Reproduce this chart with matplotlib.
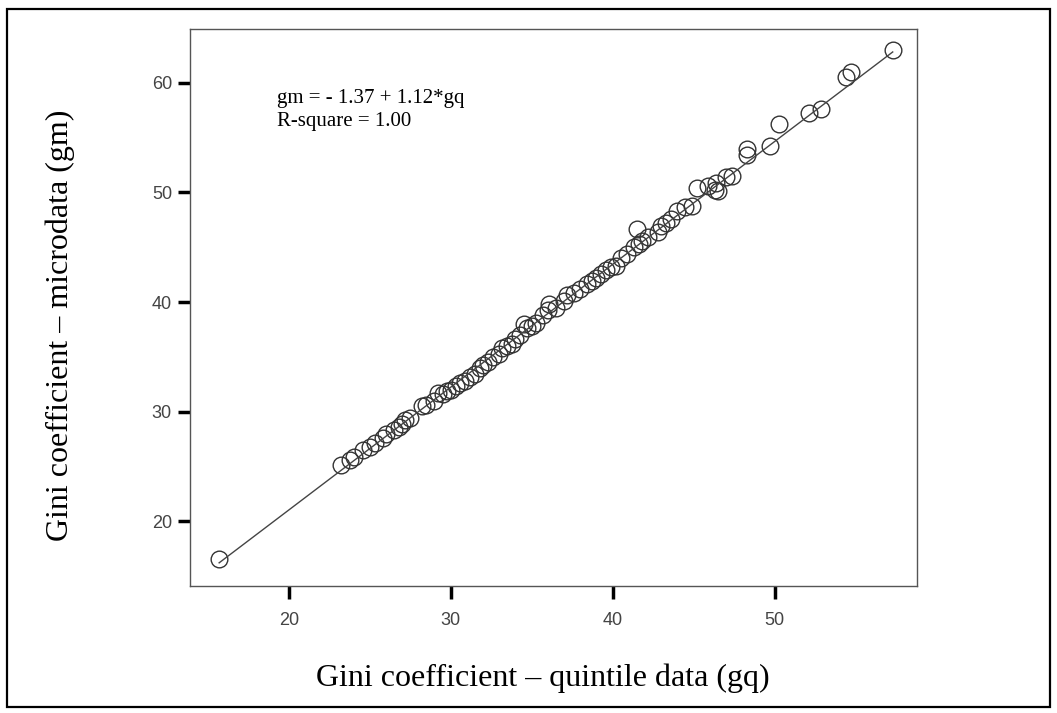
import numpy as np
import matplotlib.pyplot as plt
from matplotlib.patches import Rectangle

# Gini coefficients: quintile data (gq) vs microdata (gm)
gq = [15.7, 23.2, 23.8, 24.0, 24.6, 25.0, 25.3, 25.8, 26.0, 26.5, 26.8, 27.0, 27.2, 27.5,
      28.2, 28.5, 29.0, 29.2, 29.5, 29.8, 30.0, 30.3, 30.6, 30.9, 31.2, 31.5, 31.8, 32.0,
      32.3, 32.6, 33.0, 33.2, 33.5, 33.8, 34.0, 34.3, 34.5, 34.7, 35.0, 35.3, 35.7, 36.0,
      36.1, 36.5, 37.0, 37.2, 37.6, 38.0, 38.4, 38.7, 39.0, 39.3, 39.6, 39.9, 40.2, 40.5,
      40.9, 41.3, 41.5, 41.6, 41.8, 42.2, 42.8, 43.0, 43.3, 43.6, 44.0, 44.5, 44.9, 45.2,
      45.9, 46.3, 46.4, 46.5, 47.0, 47.4, 48.3, 48.3, 49.7, 50.3, 52.1, 52.9, 54.4, 54.7,
      57.3]
gm = [16.6, 25.1, 25.6, 25.9, 26.5, 26.8, 27.1, 27.6, 28.0, 28.3, 28.6, 28.9, 29.2, 29.4,
      30.5, 30.6, 31.0, 31.7, 31.6, 31.9, 32.0, 32.3, 32.6, 32.8, 33.2, 33.4, 34.0, 34.3,
      34.5, 35.0, 35.3, 35.8, 36.0, 36.2, 36.6, 37.0, 38.0, 37.6, 37.8, 38.1, 38.8, 39.3,
      39.8, 39.5, 40.1, 40.6, 40.8, 41.2, 41.6, 41.9, 42.2, 42.6, 42.9, 43.2, 43.3, 44.0,
      44.4, 45.0, 46.7, 45.3, 45.6, 45.9, 46.4, 46.9, 47.2, 47.6, 48.3, 48.7, 48.8, 50.4,
      50.6, 50.2, 50.9, 50.1, 51.4, 51.5, 53.4, 54.0, 54.2, 56.2, 57.2, 57.6, 60.5, 61.0,
      63.0]

# fitted line reported on the chart
intercept = -1.37
slope = 1.12

x_ticks = [20, 30, 40, 50]
y_ticks = [20, 30, 40, 50, 60]

fig = plt.figure(figsize=(10.57, 7.13), dpi=100)
ax = fig.add_axes([190/1057, 1 - 586/713, 727/1057, 557/713])

# outer frame around the whole figure
fig.patches.append(Rectangle((7/1057, 1 - 707/713), 1043/1057, 698/713,
                             transform=fig.transFigure, fill=False,
                             edgecolor='black', linewidth=1.6))

ax.plot(gq, gm, 'o', markersize=12, markerfacecolor='none',
        markeredgecolor='#333333', markeredgewidth=1.0)

xs = np.array([min(gq), max(gq)])
ax.plot(xs, intercept + slope * xs, '-', color='#444444', linewidth=1.0)

ax.set_xlim(13.9, 58.8)
ax.set_ylim(14.1, 64.9)
ax.set_xticks(x_ticks)
ax.set_yticks(y_ticks)

for sp in ax.spines.values():
    sp.set_color('#555555')
    sp.set_linewidth(1.0)

ax.tick_params(direction='out', length=9, width=2.5, color='black',
               labelsize=13, labelcolor='#444444')
ax.tick_params(axis='x', pad=10)
ax.tick_params(axis='y', pad=4)
for lab in ax.get_xticklabels() + ax.get_yticklabels():
    lab.set_family('Liberation Sans')

ax.text(0.12, 0.855, 'gm = - 1.37 + 1.12*gq\nR-square = 1.00', transform=ax.transAxes,
        family='Liberation Serif', fontsize=15, va='center', ha='left',
        linespacing=1.3)

fig.text(543/1057, 1 - 678/713, 'Gini coefficient – quintile data (gq)',
         family='Liberation Serif', fontsize=23, ha='center', va='center')
fig.text(60/1057, 1 - 325/713, 'Gini coefficient – microdata (gm)',
         family='Liberation Serif', fontsize=23, ha='center', va='center',
         rotation=90)

fig.savefig('out.png', dpi=100)
